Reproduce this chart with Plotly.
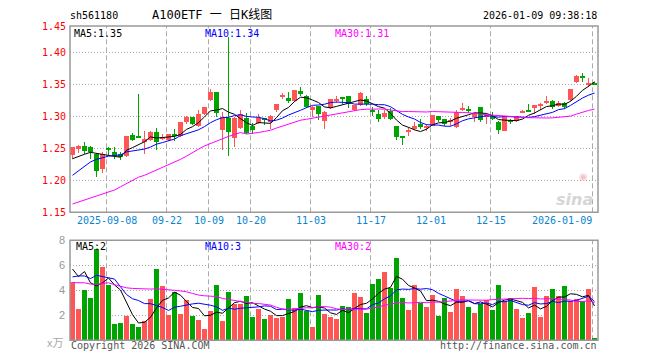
import plotly.graph_objects as go

# ---------------- data ----------------
open_ = [1.240, 1.249, 1.254, 1.252, 1.242, 1.218, 1.249, 1.245, 1.241, 1.238,
         1.271, 1.269, 1.260, 1.263, 1.276, 1.265, 1.263, 1.272, 1.269, 1.291,
         1.299, 1.285, 1.304, 1.326, 1.338, 1.279, 1.298, 1.266, 1.282, 1.298,
         1.285, 1.290, 1.296, 1.291, 1.310, 1.331, 1.329, 1.324, 1.340, 1.333,
         1.311, 1.316, 1.293, 1.313, 1.325, 1.330, 1.332, 1.311, 1.318, 1.327,
         1.311, 1.304, 1.300, 1.309, 1.285, 1.268, 1.276, 1.280, 1.288, 1.282,
         1.286, 1.301, 1.297, 1.292, 1.284, 1.311, 1.311, 1.300, 1.315, 1.300,
         1.301, 1.292, 1.278, 1.294, 1.293, 1.306, 1.310, 1.315, 1.317, 1.322,
         1.325, 1.316, 1.322, 1.326, 1.354, 1.363, 1.351, 1.353]
high = [1.253, 1.256, 1.260, 1.254, 1.243, 1.244, 1.253, 1.252, 1.245, 1.270,
        1.274, 1.335, 1.278, 1.278, 1.282, 1.272, 1.272, 1.281, 1.292, 1.301,
        1.300, 1.311, 1.315, 1.344, 1.339, 1.307, 1.424, 1.300, 1.310, 1.306,
        1.290, 1.304, 1.298, 1.302, 1.320, 1.337, 1.338, 1.342, 1.346, 1.334,
        1.316, 1.317, 1.309, 1.328, 1.332, 1.330, 1.332, 1.318, 1.338, 1.332,
        1.315, 1.310, 1.310, 1.313, 1.285, 1.269, 1.283, 1.292, 1.297, 1.288,
        1.303, 1.301, 1.297, 1.298, 1.310, 1.321, 1.316, 1.306, 1.315, 1.304,
        1.307, 1.293, 1.301, 1.297, 1.301, 1.310, 1.319, 1.318, 1.321, 1.332,
        1.326, 1.325, 1.323, 1.343, 1.365, 1.369, 1.360, 1.354]
low = [1.233, 1.243, 1.242, 1.234, 1.206, 1.211, 1.240, 1.233, 1.232, 1.236,
       1.261, 1.268, 1.242, 1.261, 1.248, 1.263, 1.262, 1.261, 1.268, 1.289,
       1.287, 1.283, 1.303, 1.325, 1.300, 1.247, 1.238, 1.253, 1.281, 1.273,
       1.273, 1.289, 1.287, 1.280, 1.308, 1.327, 1.322, 1.323, 1.333, 1.314,
       1.300, 1.295, 1.280, 1.312, 1.322, 1.320, 1.313, 1.309, 1.317, 1.317,
       1.301, 1.291, 1.297, 1.294, 1.263, 1.256, 1.269, 1.279, 1.281, 1.278,
       1.285, 1.292, 1.286, 1.286, 1.282, 1.309, 1.306, 1.292, 1.292, 1.289,
       1.294, 1.272, 1.277, 1.289, 1.292, 1.305, 1.307, 1.304, 1.310, 1.319,
       1.312, 1.315, 1.312, 1.325, 1.353, 1.354, 1.346, 1.350]
close = [1.252, 1.254, 1.246, 1.244, 1.215, 1.242, 1.248, 1.239, 1.238, 1.269,
         1.263, 1.268, 1.265, 1.276, 1.260, 1.267, 1.272, 1.270, 1.291, 1.300,
         1.288, 1.304, 1.315, 1.338, 1.306, 1.300, 1.276, 1.298, 1.304, 1.274,
         1.279, 1.298, 1.295, 1.301, 1.319, 1.333, 1.324, 1.341, 1.335, 1.315,
         1.315, 1.304, 1.307, 1.327, 1.327, 1.328, 1.320, 1.318, 1.337, 1.320,
         1.307, 1.296, 1.306, 1.296, 1.268, 1.267, 1.279, 1.286, 1.283, 1.286,
         1.302, 1.294, 1.289, 1.294, 1.308, 1.314, 1.309, 1.305, 1.294, 1.303,
         1.296, 1.279, 1.300, 1.292, 1.301, 1.309, 1.308, 1.318, 1.319, 1.325,
         1.315, 1.322, 1.315, 1.343, 1.364, 1.362, 1.353, 1.351]
volume = [4.67, 2.50, 4.01, 3.37, 7.25, 5.87, 4.41, 1.25, 1.33, 1.96,
          1.30, 1.08, 1.54, 3.32, 5.71, 4.33, 2.04, 3.85, 2.10, 3.21,
          1.94, 1.62, 0.92, 2.34, 4.41, 1.54, 3.85, 2.90, 2.90, 3.53,
          1.86, 2.50, 1.70, 2.04, 1.77, 1.86, 3.29, 2.58, 3.78, 2.34,
          1.08, 3.61, 2.10, 1.86, 1.70, 2.74, 2.66, 3.77, 3.45, 2.18,
          4.49, 4.89, 5.45, 4.17, 6.56, 3.37, 2.42, 4.41, 2.97, 2.66,
          3.61, 1.94, 3.37, 2.26, 4.09, 3.53, 2.66, 2.18, 2.90, 3.21,
          2.42, 4.41, 3.13, 3.37, 2.50, 1.77, 2.18, 4.25, 1.86, 3.53,
          4.09, 3.53, 4.33, 3.13, 3.29, 3.13, 4.09, 0.10]

# moving-average values at the start of the window (history not shown)
ma5_head = [1.234, 1.238, 1.241, 1.244]
ma10_head = [1.208, 1.215, 1.222, 1.229, 1.233, 1.236, 1.238, 1.239, 1.240]
ma30_head = [1.163, 1.166, 1.169, 1.172, 1.175, 1.178, 1.181, 1.185, 1.190, 1.195,
             1.200, 1.205, 1.208, 1.212, 1.216, 1.220, 1.224, 1.228, 1.233, 1.238,
             1.244, 1.249, 1.254, 1.258, 1.262, 1.266, 1.269, 1.272, 1.275]
vma5_head = [5.7, 5.1, 5.5, 4.6]
vma10_head = [5.07, 5.15, 5.15, 4.94, 5.2, 5.07, 5.0, 4.9, 4.3]
vma30_head = [4.62, 4.62, 4.60, 4.50, 4.46, 4.55, 4.60, 4.45, 4.30, 4.20,
              4.15, 4.12, 4.10, 4.10, 4.12, 4.10, 4.05, 4.00, 3.95, 3.88,
              3.75, 3.62, 3.56, 3.53, 3.50, 3.35, 3.28, 3.20, 3.13]

# legend values as printed on the chart
vol_ma_labels = ["MA5:2", "MA10:3", "MA30:2"]

tick_labels = ["2025-09-08", "09-22", "10-09", "10-20", "11-03", "11-17", "12-01", "12-15", "2026-01-09"]
tick_index = [6, 16, 23, 30, 40, 50, 60, 70, 87]
price_ticks = [1.15, 1.20, 1.25, 1.30, 1.35, 1.40]
vol_ticks = [2, 4, 6, 8]

code = "sh561180"
title = "A100ETF 一 日K线图"
stamp = "2026-01-09 09:38:18"

# ---------------- helpers ----------------
RED = "#ff5555"
GREEN = "#00a400"
GRID = "#aaaaaa"
BORDER = "#999999"
MONO = "DejaVu Sans Mono, Noto Sans CJK SC, monospace"


def ma(vals, n, head):
    out = []
    for i in range(len(vals)):
        if i >= n - 1:
            out.append(sum(vals[i - n + 1:i + 1]) / n)
        else:
            out.append(head[i])
    return out


N = len(close)
idx = list(range(N))
colors = [RED if c >= o else GREEN for o, c in zip(open_, close)]
ma5 = ma(close, 5, ma5_head)
ma10 = ma(close, 10, ma10_head)
ma30 = ma(close, 30, ma30_head)
vma5 = ma(volume, 5, vma5_head)
vma10 = ma(volume, 10, vma10_head)
vma30 = ma(volume, 30, vma30_head)

W, H = 660, 360
L, R = 70, 598
x_left = -2.5 / 6
x_right = x_left + (R - L) / 6.0
P_TOP_PX, P_BOT_PX = 26, 212.3
V_TOP_PX, V_BOT_PX = 240.3, 340.3
p_top = 1.15 + (P_BOT_PX - P_TOP_PX) / 638.0


def py(px):
    return 1 - px / H


def pxx(px):
    return (px - L) / (R - L)


fig = go.Figure()

# wicks
fig.add_trace(go.Bar(x=idx, y=[h - l for h, l in zip(high, low)], base=low, width=1 / 6,
                     marker=dict(color=colors, line=dict(width=0)), xaxis="x", yaxis="y",
                     hoverinfo="skip"))
# bodies
min_h = 1.0 / 638
fig.add_trace(go.Bar(x=idx, y=[max(abs(c - o), min_h) for o, c in zip(open_, close)],
                     base=[min(o, c) for o, c in zip(open_, close)], width=5 / 6,
                     marker=dict(color=colors, line=dict(width=0)), xaxis="x", yaxis="y"))
for vals, col in [(ma5, "black"), (ma10, "#0000ff"), (ma30, "#ff00ff")]:
    fig.add_trace(go.Scatter(x=idx, y=vals, mode="lines", line=dict(color=col, width=1),
                             xaxis="x", yaxis="y"))

# volume
fig.add_trace(go.Bar(x=idx, y=volume, width=5 / 6, marker=dict(color=colors, line=dict(width=0)),
                     xaxis="x2", yaxis="y2"))
for vals, col in [(vma5, "black"), (vma10, "#0000ff"), (vma30, "#ff00ff")]:
    fig.add_trace(go.Scatter(x=idx, y=vals, mode="lines", line=dict(color=col, width=1),
                             xaxis="x2", yaxis="y2"))

shapes = []
# vertical dashed grid lines
for ti in tick_index:
    for yr in ("y", "y2"):
        rng = (1.15, p_top) if yr == "y" else (0, 8)
        shapes.append(dict(type="line", xref="x", yref=yr, x0=ti - 1 / 3, x1=ti - 1 / 3,
                           y0=rng[0], y1=rng[1], line=dict(color=GRID, width=1, dash="5px,3px"),
                           layer="below"))
# panel borders
for y0, y1 in [(P_TOP_PX, P_BOT_PX), (V_TOP_PX, V_BOT_PX)]:
    shapes.append(dict(type="rect", xref="paper", yref="paper", x0=0, x1=1, y0=py(y1), y1=py(y0),
                       line=dict(color=BORDER, width=1.5), fillcolor="rgba(0,0,0,0)"))

ann = []
def text(x, y, s, color="black", size=10, xanchor="left", family=MONO, **kw):
    ann.append(dict(x=x, y=y, xref="paper", yref="paper", text=s, showarrow=False,
                    font=dict(family=family, size=size, color=color),
                    xanchor=xanchor, yanchor="middle", **kw))

text(pxx(68), py(16), code)
text(pxx(149.5), py(15.5), title, size=12)
text(pxx(599), py(16), stamp, xanchor="right")
text(pxx(67.5), py(27), "1.45", color="#ff0000", xanchor="right")

text(pxx(72), py(33.5), f"MA5:{ma5[-1]:.2f}")
text(pxx(202.5), py(33.5), f"MA10:{ma10[-1]:.2f}", color="#0000ff")
text(pxx(333), py(33.5), f"MA30:{ma30[-1]:.2f}", color="#ff00ff")
text(pxx(73.5), py(246.7), vol_ma_labels[0])
text(pxx(202.5), py(246.7), vol_ma_labels[1], color="#0000ff")
text(pxx(333), py(246.7), vol_ma_labels[2], color="#ff00ff")

# date labels
for lab, ti in zip(tick_labels, tick_index):
    last = ti == tick_index[-1]
    ann.append(dict(x=(ti - 1 / 3) if not last else x_right - 4.5 / 6, y=py(220.5), xref="x", yref="paper",
                    text=lab, showarrow=False, font=dict(family=MONO, size=10, color="#0a84d0"),
                    xanchor="right" if last else "center", yanchor="middle"))

text(pxx(64.5), py(341.5), "x万", color="#a8a8a8", size=11, xanchor="right",
     family="Noto Sans CJK SC")
text(pxx(69), py(345.5), "Copyright 2026 SINA.COM", color="#555555")
text(pxx(599), py(345.5), "http://finance.sina.com.cn", color="#555555", xanchor="right")
# watermark
text(pxx(595), py(199), "<b><i>sina</i></b>", color="#d6d6d6", size=16, xanchor="right",
     family="DejaVu Sans")
text(pxx(590), py(176), "◉", color="#f2c4c4", size=10, xanchor="right", family="DejaVu Sans")

fig.update_layout(
    width=W, height=H, template="none",
    margin=dict(l=L, r=W - R, t=0, b=0, pad=0),
    paper_bgcolor="white", plot_bgcolor="white",
    showlegend=False, barmode="overlay", bargap=0,
    xaxis=dict(domain=[0, 1], range=[x_left, x_right], anchor="y", showticklabels=False,
               showgrid=False, zeroline=False, showline=False, ticks="", automargin=False),
    xaxis2=dict(domain=[0, 1], range=[x_left, x_right], anchor="y2", matches="x",
                showticklabels=False, showgrid=False, zeroline=False, showline=False, ticks="",
                automargin=False),
    yaxis=dict(domain=[py(P_BOT_PX), py(P_TOP_PX)], range=[1.15, p_top], anchor="x",
               tickvals=price_ticks, ticktext=[f"{v:.2f}" for v in price_ticks],
               tickfont=dict(family=MONO, size=10, color="#ff0000"),
               showgrid=True, gridcolor=GRID, griddash="1px,2px", gridwidth=1,
               zeroline=False, showline=False, ticks="", ticklabelstandoff=3, automargin=False),
    yaxis2=dict(domain=[py(V_BOT_PX), py(V_TOP_PX)], range=[0, 8], anchor="x2",
                tickvals=vol_ticks, ticktext=[str(v) for v in vol_ticks],
                tickfont=dict(family="Liberation Sans, Arial", size=11, color="#999999"),
                showgrid=True, gridcolor=GRID, griddash="1px,2px", gridwidth=1,
                zeroline=False, showline=False, ticks="", ticklabelstandoff=4, automargin=False),
    shapes=shapes, annotations=ann,
)

fig.write_html("out.html", config={"displayModeBar": False},
               post_script="document.body.style.margin='0px';")
